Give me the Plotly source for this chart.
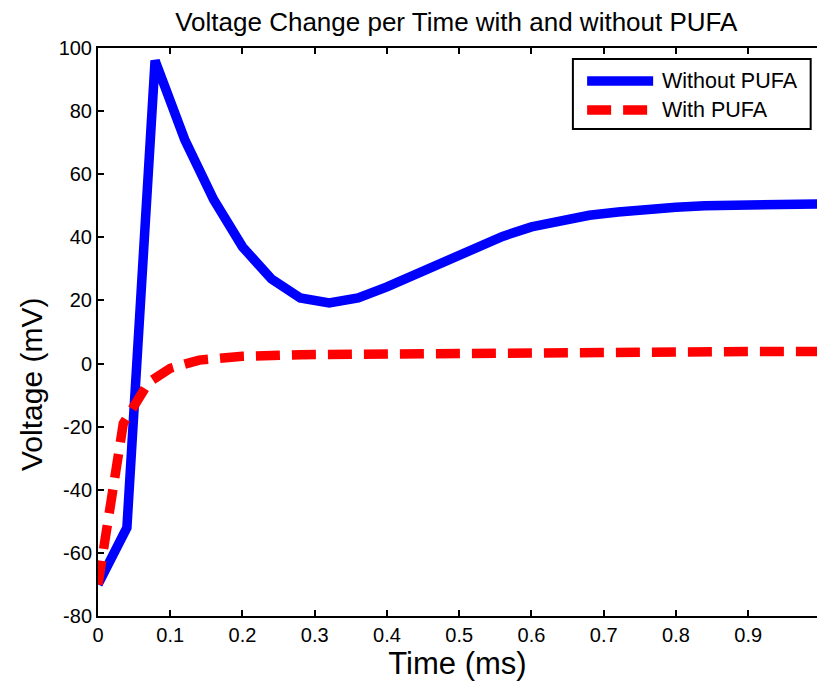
import plotly.graph_objects as go

# Data
time_without = [0, 0.04, 0.079, 0.12, 0.16, 0.2, 0.24, 0.28, 0.32, 0.36, 0.4, 0.44, 0.48,
                0.52, 0.56, 0.6, 0.64, 0.68, 0.72, 0.76, 0.8, 0.84, 0.88, 0.92, 0.96, 1.0]
volt_without = [-70, -52, 96, 71, 52, 37, 26.8, 20.8, 19.2, 20.8, 24.3, 28.2, 32.2,
                36.3, 40.3, 43.3, 45.5, 47, 48, 49, 49.5, 50, 50, 50.5, 50.6, 50.6]

time_with = [0, 0.035, 0.07, 0.1, 0.14, 0.2, 0.28, 0.36, 0.44, 0.52, 0.6, 0.7, 0.8, 0.9, 1.0]
volt_with = [-70, -19, -6, -1.5, 1.1, 2.3, 2.8, 3.0, 3.2, 3.6, 3.7, 3.8, 3.8, 3.8, 3.8]

x_ticks = [0, 0.1, 0.2, 0.3, 0.4, 0.5, 0.6, 0.7, 0.8, 0.9, 1.0]
x_tick_labels = ["0", "0.1", "0.2", "0.3", "0.4", "0.5", "0.6", "0.7", "0.8", "0.9", "1"]
y_ticks = [-80, -60, -40, -20, 0, 20, 40, 60, 80, 100]
y_tick_labels = ["-80", "-60", "-40", "-20", "0", "20", "40", "60", "80", "100"]

series_names = ["Without PUFA", "With PUFA"]
series_colors = ["#0000FF", "#FF0000"]

FONT = "Liberation Sans, Arial, Helvetica, sans-serif"

fig = go.Figure()
fig.add_trace(go.Scatter(x=time_without, y=volt_without, mode="lines", name=series_names[0],
                         line=dict(color=series_colors[0], width=9.5), showlegend=False))
fig.add_trace(go.Scatter(x=time_with, y=volt_with, mode="lines", name=series_names[1],
                         line=dict(color=series_colors[1], width=9.5, dash="24px,12px"),
                         showlegend=False))

# Legend drawn as a boxed key in the upper right (MATLAB style)
lx0, lx1, ly0, ly1 = 0.6605, 0.9912, 0.8574, 0.9806
fig.add_shape(type="rect", xref="paper", yref="paper", x0=lx0, x1=lx1, y0=ly0, y1=ly1,
              line=dict(color="black", width=2), fillcolor="white", layer="above")
rows = [0.9419, 0.8908]
for name, color, yr, dash in zip(series_names, series_colors, rows, ["solid", "24px,12px"]):
    fig.add_shape(type="line", xref="paper", yref="paper", x0=0.6803, x1=0.7721, y0=yr, y1=yr,
                  line=dict(color=color, width=9.5, dash=dash), layer="above")
    fig.add_annotation(xref="paper", yref="paper", x=0.7818, y=yr, text=name, showarrow=False,
                       xanchor="left", yanchor="middle", font=dict(family=FONT, size=21.5, color="black"))

# Y-axis title placed as in the reference
fig.add_annotation(xref="paper", yref="paper", x=-0.0935, y=0.408, text="Voltage (mV)",
                   textangle=-90, showarrow=False, xanchor="center", yanchor="middle",
                   font=dict(family=FONT, size=30, color="black"))

fig.update_layout(
    width=817, height=686,
    margin=dict(l=97.5, r=0, t=48, b=70),
    paper_bgcolor="white", plot_bgcolor="white",
    font=dict(family=FONT, color="black"),
    title=dict(text="Voltage Change per Time with and without PUFA", x=0.5585, xanchor="center",
               y=0.968, yanchor="middle", font=dict(family=FONT, size=26, color="black")),
    xaxis=dict(range=[0, 0.9952], tickvals=x_ticks, ticktext=x_tick_labels,
               ticks="inside", ticklen=6, tickwidth=1.5, tickcolor="black",
               showline=True, linecolor="black", linewidth=2, mirror="ticks",
               showgrid=False, zeroline=False,
               tickfont=dict(family=FONT, size=20, color="black"),
               title=dict(text="Time (ms)", font=dict(family=FONT, size=31, color="black"), standoff=4)),
    yaxis=dict(range=[-80, 100], tickvals=y_ticks, ticktext=y_tick_labels,
               ticks="inside", ticklen=6, tickwidth=1.5, tickcolor="black",
               showline=True, linecolor="black", linewidth=2, mirror=False,
               showgrid=False, zeroline=False,
               tickfont=dict(family=FONT, size=20, color="black")),
)

fig.write_html("out.html")
